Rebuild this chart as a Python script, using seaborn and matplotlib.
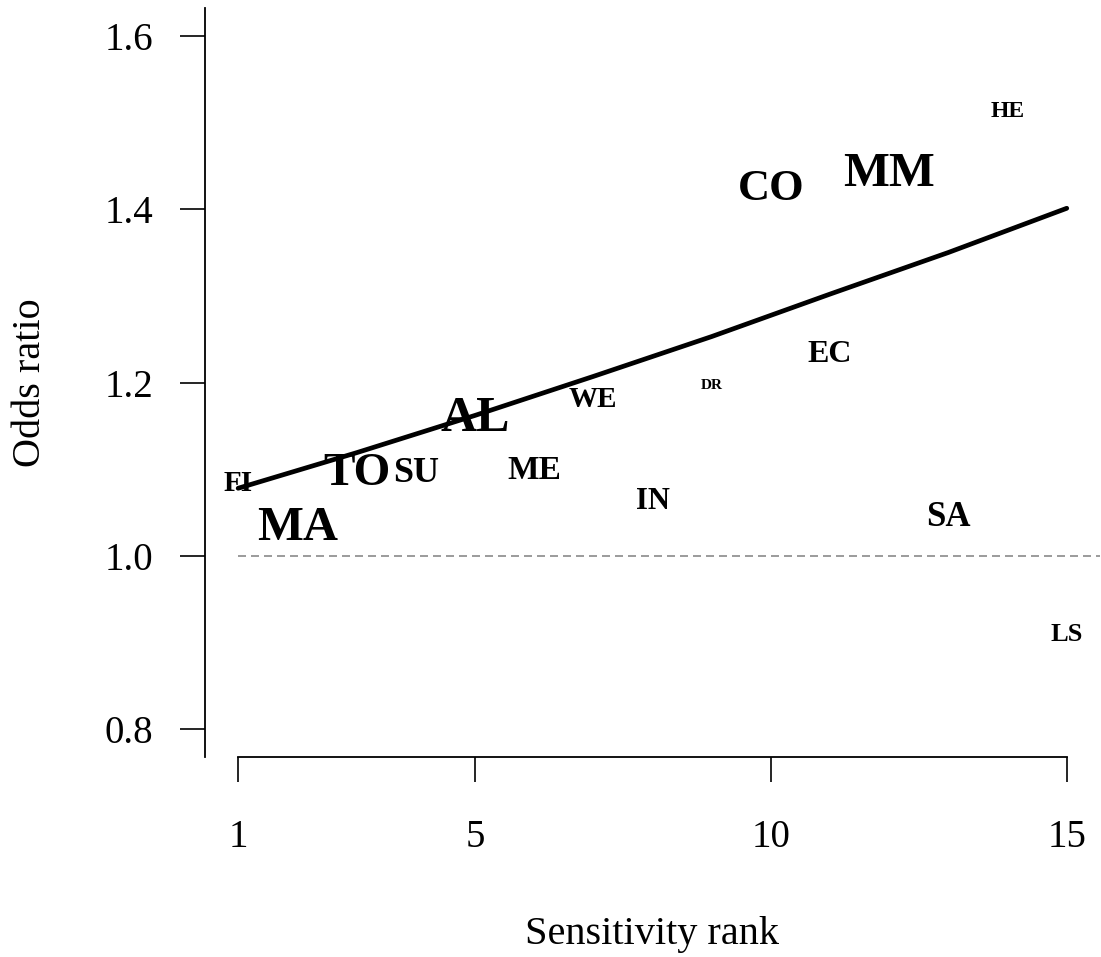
import numpy as np
import pandas as pd
import seaborn as sns
import matplotlib.pyplot as plt

# Data
labels = ['FI', 'MA', 'TO', 'SU', 'AL', 'ME', 'WE', 'IN', 'DR', 'CO', 'EC', 'MM', 'SA', 'HE', 'LS']
rank = [1, 2, 3, 4, 5, 6, 7, 8, 9, 10, 11, 12, 13, 14, 15]
odds = [1.087, 1.038, 1.100, 1.100, 1.164, 1.102, 1.184, 1.067, 1.198,
        1.429, 1.236, 1.446, 1.049, 1.516, 0.912]
# label size (points) - weight of each item
sizes = [21, 35, 34, 26, 36, 24, 21, 22, 11, 32, 23, 35, 25, 17, 19]

# fitted curve
fit_rank = [1, 3, 5, 7, 9, 11, 13, 15]
fit_or = [1.078, 1.119, 1.162, 1.207, 1.253, 1.302, 1.350, 1.401]

ref_or = 1.0
x_ticks = [1, 5, 10, 15]
y_ticks = [0.8, 1.0, 1.2, 1.4, 1.6]

df = pd.DataFrame({'label': labels, 'rank': rank, 'odds': odds, 'size': sizes})
df_fit = pd.DataFrame({'rank': fit_rank, 'odds': fit_or})

sns.set_theme(style='ticks')
plt.rcParams['font.family'] = ['Liberation Serif', 'DejaVu Serif']
plt.rcParams['text.color'] = 'black'
plt.rcParams['axes.labelcolor'] = 'black'

fig = plt.figure(figsize=(11.01, 9.57), dpi=100)
ax = fig.add_axes([0.1862, 0.209, 0.8128, 0.7826])

# reference line at OR = 1
ax.hlines(ref_or, rank[0], 15.56, colors='#8a8a8a', linestyles=(0, (4.8, 3)), linewidth=1.2)

# fitted curve
sns.lineplot(data=df_fit, x='rank', y='odds', color='black', linewidth=3.4, ax=ax)

# labels as text marks
for _, row in df.iterrows():
    ax.text(row['rank'], row['odds'], row['label'], fontsize=row['size'],
            fontweight='bold', ha='center', va='center_baseline', color='black')

ax.set_xlim(0.44, 15.56)
ax.set_ylim(0.768, 1.632)
ax.set_xticks(x_ticks)
ax.set_xticklabels([str(t) for t in x_ticks])
ax.set_yticks(y_ticks)
ax.set_yticklabels(['%.1f' % t for t in y_ticks])

sns.despine(ax=ax)
ax.spines['bottom'].set_bounds(1, 15)
for s in ['left', 'bottom']:
    ax.spines[s].set_linewidth(1.3)
    ax.spines[s].set_color('black')

ax.tick_params(axis='both', direction='out', length=18, width=1.2, color='black',
               labelsize=28, labelcolor='black')
ax.tick_params(axis='x', pad=27)
ax.tick_params(axis='y', pad=19)

ax.set_xlabel('Sensitivity rank', fontsize=29, labelpad=43, color='black')
ax.set_ylabel('Odds ratio', fontsize=29, labelpad=40, color='black')

fig.savefig('out.png', dpi=100)
